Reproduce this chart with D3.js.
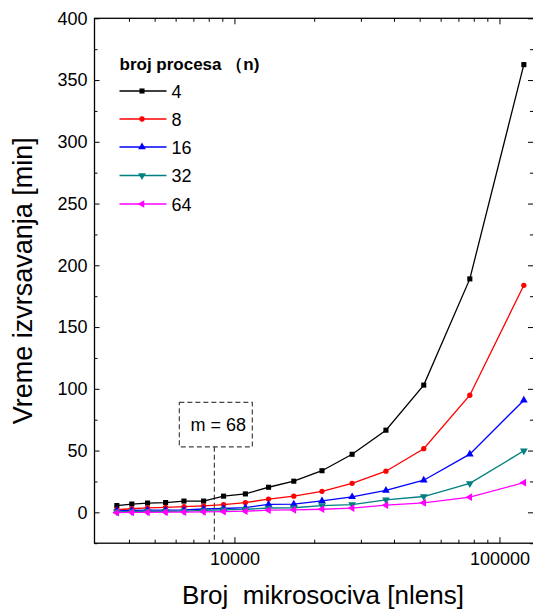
<!DOCTYPE html>
<html>
<head>
<meta charset="utf-8">
<script src="https://cdn.jsdelivr.net/npm/d3@7.9.0/dist/d3.min.js"></script>
<style>
  html, body { margin: 0; padding: 0; background: #fff; }
  svg { display: block; font-family: "Liberation Sans", Arial, sans-serif; }
</style>
</head>
<body>
<div id="chart"></div>
<script>
// number of microlenses (x) and run time in minutes per process count
const nlens = [3600, 4100, 4700, 5500, 6450, 7650, 9100, 11000, 13450, 16750, 21400, 27800, 37300, 51800, 77300, 123600];
const time4 = [5.5, 6.7, 7.5, 7.9, 9.1, 9.1, 13.1, 14.9, 20.3, 25.2, 33.7, 47, 66.5, 103, 189, 362.5];
const time8 = [2.1, 2.9, 3.6, 4.0, 4.6, 5.3, 6.2, 7.9, 10.7, 13.1, 17, 23.5, 33.3, 51.5, 94.8, 183.8];
const time16 = [1.2, 1.5, 1.8, 1.8, 2.0, 2.7, 3.1, 3.8, 6.4, 6.6, 9.2, 12.5, 17.7, 26, 47.1, 90.8];
const time32 = [0.4, 0.6, 0.8, 0.8, 1.0, 1.5, 2.0, 2.4, 3.5, 3.7, 5.5, 6.3, 10.1, 12.8, 23.4, 49.8];
const time64 = [-0.3, 0, 0, 0.1, 0.2, 0.4, 0.6, 0.9, 1.7, 2.0, 2.5, 3.4, 5.8, 7.7, 12.3, 24];

const processCounts = ['4', '8', '16', '32', '64'];
const seriesColors = ['#000000', '#ff0000', '#0000ff', '#008080', '#ff00ff'];
const seriesShapes = ['square', 'circle', 'up', 'down', 'left'];

const xMajorTicks = [10000, 100000];
const xMinorTicks = [4000, 5000, 6000, 7000, 8000, 9000, 20000, 30000, 40000, 50000, 60000, 70000, 80000, 90000];
const yMajorTicks = [0, 50, 100, 150, 200, 250, 300, 350, 400];
const yMinorTicks = [-25, 25, 75, 125, 175, 225, 275, 325, 375];

// annotation: m = 68 at this nlens, box spans these minutes
const mLineX = 8400;
const mBoxTop = 89;
const mBoxBottom = 53;

const width = 533;
const height = 610;
const plot = { left: 94.5, right: 534, top: 18.3, bottom: 543.2 };

const svg = (d3
  .select('#chart')
  .append('svg')
  .attr('width', width)
  .attr('height', height)
);

const x = d3.scaleLog().domain([2965, 135000]).range([plot.left, plot.right]);
const y = d3.scaleLinear().domain([-25, 400]).range([plot.bottom, plot.top]);

function styleAxis(g) {
  g.select('.domain').remove();
  g.selectAll('line').attr('stroke', '#000').attr('stroke-width', 1);
  g.selectAll('text').attr('fill', '#000').style('font-size', '18px');
}

function drawAxes() {
  // bottom
  (svg.append('g')
    .attr('transform', `translate(0,${plot.bottom})`)
    .call(d3.axisBottom(x).tickValues(xMajorTicks).tickFormat(d3.format('d')).tickSizeInner(-6).tickPadding(9))
    .call(styleAxis)
  );
  (svg.append('g')
    .attr('transform', `translate(0,${plot.bottom})`)
    .call(d3.axisBottom(x).tickValues(xMinorTicks).tickFormat('').tickSizeInner(-3.5))
    .call(styleAxis)
  );
  // top
  (svg.append('g')
    .attr('transform', `translate(0,${plot.top})`)
    .call(d3.axisTop(x).tickValues(xMajorTicks).tickFormat('').tickSizeInner(-6))
    .call(styleAxis)
  );
  (svg.append('g')
    .attr('transform', `translate(0,${plot.top})`)
    .call(d3.axisTop(x).tickValues(xMinorTicks).tickFormat('').tickSizeInner(-3.5))
    .call(styleAxis)
  );
  // left
  (svg.append('g')
    .attr('transform', `translate(${plot.left},0)`)
    .call(d3.axisLeft(y).tickValues(yMajorTicks).tickSizeInner(-5).tickPadding(7))
    .call(styleAxis)
  );
  (svg.append('g')
    .attr('transform', `translate(${plot.left},0)`)
    .call(d3.axisLeft(y).tickValues(yMinorTicks).tickFormat('').tickSizeInner(-3))
    .call(styleAxis)
  );
  // right
  (svg.append('g')
    .attr('transform', `translate(${plot.right - 1},0)`)
    .call(d3.axisRight(y).tickValues(yMajorTicks).tickFormat('').tickSizeInner(-5))
    .call(styleAxis)
  );
  (svg.append('g')
    .attr('transform', `translate(${plot.right - 1},0)`)
    .call(d3.axisRight(y).tickValues(yMinorTicks).tickFormat('').tickSizeInner(-3))
    .call(styleAxis)
  );

  (svg.append('rect')
    .attr('x', plot.left)
    .attr('y', plot.top)
    .attr('width', plot.right - plot.left)
    .attr('height', plot.bottom - plot.top)
    .attr('fill', 'none')
    .attr('stroke', '#000')
    .attr('stroke-width', 1.3)
  );

  (svg.append('text')
    .attr('x', 323)
    .attr('y', 604)
    .attr('text-anchor', 'middle')
    .style('font-size', '26px')
    .style('white-space', 'pre')
    .text('Broj  mikrosociva [nlens]')
  );

  (svg.append('text')
    .attr('transform', `translate(32,${(plot.top + plot.bottom) / 2}) rotate(-90)`)
    .attr('text-anchor', 'middle')
    .style('font-size', '27px')
    .text('Vreme izvrsavanja [min]')
  );
}

function markerPath(shape) {
  const types = {
    square: d3.symbolSquare,
    circle: d3.symbolCircle,
    up: d3.symbolTriangle,
    down: d3.symbolTriangle,
    left: d3.symbolTriangle,
  };
  const size = shape === 'square' ? 26 : shape === 'circle' ? 22 : 26;
  return d3.symbol(types[shape], size)();
}

function markerRotation(shape) {
  if (shape === 'down') return 180;
  if (shape === 'left') return -90;
  return 0;
}

function drawSeries() {
  const allSeries = [time4, time8, time16, time32, time64];
  const line = d3.line().x((d) => x(d[0])).y((d) => y(d[1]));

  allSeries.forEach((values, i) => {
    const pts = nlens.map((n, j) => [n, values[j]]);
    const g = svg.append('g').attr('class', 'series');
    (g.append('path')
      .datum(pts)
      .attr('d', line)
      .attr('fill', 'none')
      .attr('stroke', seriesColors[i])
      .attr('stroke-width', 1.3)
    );
    (g.selectAll('path.mark')
      .data(pts)
      .join('path')
      .attr('class', 'mark')
      .attr('d', markerPath(seriesShapes[i]))
      .attr('transform', (d) => `translate(${x(d[0])},${y(d[1])}) rotate(${markerRotation(seriesShapes[i])})`)
      .attr('fill', seriesColors[i])
    );
  });
}

function drawLegend() {
  const lx = 119.5;
  const rowY = [91, 119, 147, 175.5, 204];

  (svg.append('text')
    .attr('x', lx)
    .attr('y', 69.5)
    .style('font-size', '17px')
    .style('font-weight', 'bold')
    .style('white-space', 'pre')
    .text('broj procesa （n)')
  );

  processCounts.forEach((label, i) => {
    const g = svg.append('g').attr('transform', `translate(0,${rowY[i]})`);
    (g.append('line')
      .attr('x1', lx)
      .attr('x2', lx + 47)
      .attr('stroke', seriesColors[i])
      .attr('stroke-width', 1.3)
    );
    (g.append('path')
      .attr('d', markerPath(seriesShapes[i]))
      .attr('transform', `translate(${lx + 22.5},0) rotate(${markerRotation(seriesShapes[i])})`)
      .attr('fill', seriesColors[i])
    );
    (g.append('text')
      .attr('x', lx + 52)
      .attr('y', 6.5)
      .style('font-size', '18px')
      .text(label)
    );
  });
}

function drawAnnotation() {
  const cx = x(mLineX);
  const g = svg.append('g').attr('stroke', '#444').attr('stroke-dasharray', '5,3').attr('fill', 'none');
  (g.append('line')
    .attr('x1', cx)
    .attr('x2', cx)
    .attr('y1', y(mBoxBottom))
    .attr('y2', plot.bottom)
    .attr('stroke-width', 1.2)
  );
  (g.append('rect')
    .attr('x', cx - 35)
    .attr('y', y(mBoxTop))
    .attr('width', 73)
    .attr('height', y(mBoxBottom) - y(mBoxTop))
    .attr('stroke-width', 1.2)
  );
  (svg.append('text')
    .attr('x', cx + 4)
    .attr('y', 431)
    .attr('text-anchor', 'middle')
    .style('font-size', '18px')
    .text('m = 68')
  );
}

drawAxes();
drawAnnotation();
drawSeries();
drawLegend();
</script>
</body>
</html>
